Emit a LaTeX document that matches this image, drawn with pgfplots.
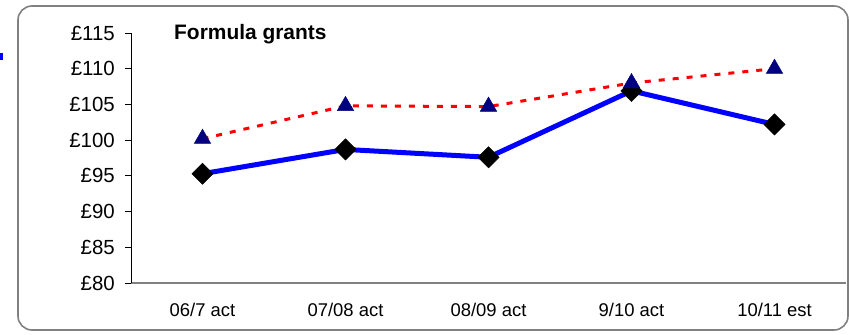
\documentclass[border=0pt]{standalone}
\usepackage{pgfplots}
\pgfplotsset{compat=1.18}
\usepackage{fontspec}
\setmainfont{Liberation Sans}
\definecolor{navy}{RGB}{0,0,128}
\definecolor{bordergray}{RGB}{128,128,128}
\begin{document}
\begin{tikzpicture}[x=1bp,y=1bp]
\useasboundingbox (0,0) rectangle (849,334);
\draw[bordergray, line width=1.6bp, rounded corners=14bp] (18,4) rectangle (848,328);
\fill[blue] (0,274) rectangle (3,281);
\begin{axis}[
  at={(131bp,51bp)}, anchor=south west,
  width=715bp, height=250bp, scale only axis,
  xmin=-0.5, xmax=4.5, ymin=80, ymax=115,
  axis x line*=bottom, axis y line*=left,
  x axis line style={draw=bordergray, line width=1.5bp},
  y axis line style={draw=black, line width=0.9bp},
  xtick={0,1,2,3,4},
  xticklabels={06/7 act, 07/08 act, 08/09 act, 9/10 act, 10/11 est},
  ytick={80,85,90,95,100,105,110,115},
  yticklabels={£80,£85,£90,£95,£100,£105,£110,£115},
  x tick style={draw=none},
  y tick style={draw=black, line width=0.9bp},
  tick align=outside, major tick length=6bp,
  yticklabel style={font=\fontsize{20.5}{23}\selectfont, inner sep=0pt, anchor=east, xshift=-10bp},
  xticklabel style={font=\fontsize{18.5}{21}\selectfont, inner sep=0pt, anchor=north, yshift=-14bp},
  clip=false,
]
\addplot[blue, line width=5bp, mark=square*, mark size=7.5bp,
  mark options={fill=black, draw=black, line width=0.5bp, rotate=45, solid}]
  coordinates {(0,95.3) (1,98.7) (2,97.6) (3,106.9) (4,102.2)};
\addplot[red, line width=3bp, dash pattern=on 6bp off 8bp, mark=triangle*, mark size=9.5bp,
  mark options={fill=navy, draw=navy, line width=0.5bp, solid}]
  coordinates {(0,100.2) (1,104.8) (2,104.7) (3,108.0) (4,110.0)};
\end{axis}
\node[anchor=base west, inner sep=0pt, font=\fontsize{21}{24}\selectfont\bfseries] at (174,295) {Formula grants};
\end{tikzpicture}
\end{document}
